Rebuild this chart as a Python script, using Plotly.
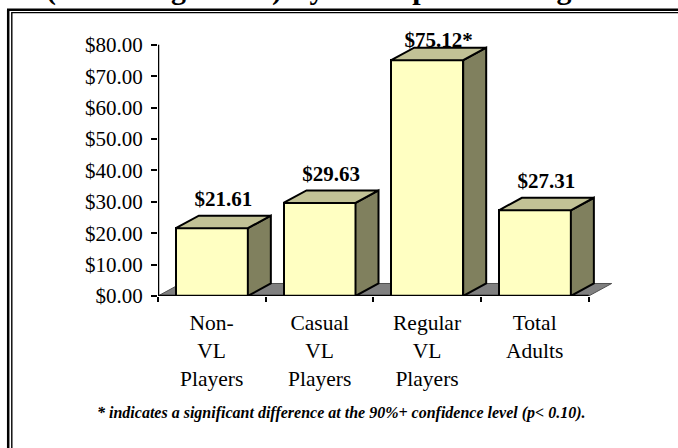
import plotly.graph_objects as go

# ---------------- data ----------------
categories = ["Non-<br>VL<br>Players", "Casual<br>VL<br>Players",
              "Regular<br>VL<br>Players", "Total<br>Adults"]
values = [21.61, 29.63, 75.12, 27.31]
value_labels = ["$21.61", "$29.63", "$75.12*", "$27.31"]
y_tick_values = [0, 10, 20, 30, 40, 50, 60, 70, 80]
y_tick_labels = ["$0.00", "$10.00", "$20.00", "$30.00", "$40.00",
                 "$50.00", "$60.00", "$70.00", "$80.00"]
title_text = "(Excluding VLT's) By VL Population Segment"
footnote_text = "* indicates a significant difference at the 90%+ confidence level (p< 0.10)."

# ---------------- geometry / style ----------------
W, H = 678, 448
AX_LEFT, AX_BOTTOM = 158, 296          # page px of the axis origin
AX_RIGHT = 621
Y_AXIS_TOP = 80
PX_PER_Y = 251 / 80
Y_MAX = 86
X_MAX = 4.3
L = AX_LEFT
B = H - AX_BOTTOM
R = W - AX_RIGHT
PH = Y_MAX * PX_PER_Y
T = H - B - PH
PW = W - L - R
XS, YS = PW / X_MAX, PX_PER_Y
DX, DY = 23 / XS, 12.5 / YS
BAR_W = 72 / XS
FRONT, TOP, SIDE, FLOOR = "#FFFFC2", "#C2C296", "#80805E", "#808080"
FONT = "Liberation Serif"


def px_x(p):
    return (p - L) / PW


def px_y(p):
    return (AX_BOTTOM - p) / PH


fig = go.Figure()

centers = [i + 0.5 for i in range(len(values))]

fig.add_trace(go.Bar(x=centers, y=values, width=BAR_W,
                     marker=dict(color=FRONT, line=dict(color="black", width=2)),
                     hoverinfo="skip", showlegend=False))

label_y = [min(v + DY + 15 / YS, 81.0) for v in values]
fig.add_trace(go.Scatter(x=[c + DX / 2 for c in centers], y=label_y, mode="text",
                         text=value_labels, textposition="middle center",
                         textfont=dict(family=FONT, size=21, color="black", weight="bold"),
                         cliponaxis=False, hoverinfo="skip", showlegend=False))

for c, v in zip(centers, values):
    xl, xr = c - BAR_W / 2, c + BAR_W / 2
    fig.add_trace(go.Scatter(x=[xr, xr + DX, xr + DX, xr, xr],
                             y=[0, DY, v + DY, v, 0],
                             mode="lines", fill="toself", fillcolor=SIDE,
                             line=dict(color="black", width=2),
                             hoverinfo="skip", showlegend=False))
    fig.add_trace(go.Scatter(x=[xl, xr, xr + DX, xl + DX, xl],
                             y=[v, v, v + DY, v + DY, v],
                             mode="lines", fill="toself", fillcolor=TOP,
                             line=dict(color="black", width=2),
                             hoverinfo="skip", showlegend=False))

n = len(values)
shapes = [
    dict(type="path", xref="x", yref="y", layer="below",
         path=f"M 0 0 L {n} 0 L {n + DX} {DY} L {DX} {DY} Z",
         fillcolor=FLOOR, line=dict(color="#505050", width=1)),
    dict(type="line", xref="x", yref="y", x0=0, y0=0, x1=n, y1=0,
         line=dict(color="black", width=2.5), layer="above"),
    dict(type="line", xref="x", yref="y", x0=0, y0=0, x1=0, y1=Y_AXIS_TOP,
         line=dict(color="black", width=2.5), layer="above"),
    # double border (left & top)
    dict(type="line", xref="paper", yref="paper", x0=px_x(8.2), y0=px_y(10), x1=px_x(8.2), y1=px_y(470),
         line=dict(color="black", width=2.5)),
    dict(type="line", xref="paper", yref="paper", x0=px_x(7), y0=px_y(10), x1=px_x(700), y1=px_y(10),
         line=dict(color="black", width=2.5)),
    dict(type="line", xref="paper", yref="paper", x0=px_x(11.8), y0=px_y(12.8), x1=px_x(11.8), y1=px_y(470),
         line=dict(color="black", width=1.4)),
    dict(type="line", xref="paper", yref="paper", x0=px_x(11.2), y0=px_y(12.8), x1=px_x(700), y1=px_y(12.8),
         line=dict(color="black", width=1.4)),
]

annotations = []
for c, cat in zip(centers, categories):
    annotations.append(dict(x=c, y=0, xref="x", yref="y", text=cat, showarrow=False,
                            yanchor="top", xanchor="center", yshift=-13,
                            font=dict(family=FONT, size=21.5, color="black")))
annotations.append(dict(x=px_x(341), y=px_y(-10.5), xref="paper", yref="paper",
                        text=f"<b>{title_text}</b>", showarrow=False,
                        xanchor="center", yanchor="middle",
                        font=dict(family=FONT, size=30, color="black")))
annotations.append(dict(x=px_x(341), y=px_y(413), xref="paper", yref="paper",
                        text=f"<b><i>{footnote_text}</i></b>", showarrow=False,
                        xanchor="center", yanchor="middle",
                        font=dict(family=FONT, size=16, color="black")))

fig.update_layout(
    width=W, height=H,
    margin=dict(l=L, r=R, t=T, b=B, pad=0),
    paper_bgcolor="white", plot_bgcolor="white",
    showlegend=False, bargap=0,
    shapes=shapes, annotations=annotations,
    xaxis=dict(range=[0, X_MAX], tickmode="array", tickvals=list(range(n + 1)),
               ticktext=[""] * (n + 1), ticks="outside", ticklen=5, tickwidth=2,
               tickcolor="black", showline=False, showgrid=False, zeroline=False,
               fixedrange=True),
    yaxis=dict(range=[0, Y_MAX], tickmode="array", tickvals=y_tick_values,
               ticktext=y_tick_labels, ticks="outside", ticklen=6, tickwidth=2,
               tickcolor="black", showline=False, ticklabelstandoff=4,
               showgrid=False, zeroline=False, fixedrange=True,
               tickfont=dict(family=FONT, size=21, color="black")),
)

fig.write_html("out.html", config={"displayModeBar": False},
               post_script="document.body.style.margin='0';document.body.style.overflow='hidden';")
